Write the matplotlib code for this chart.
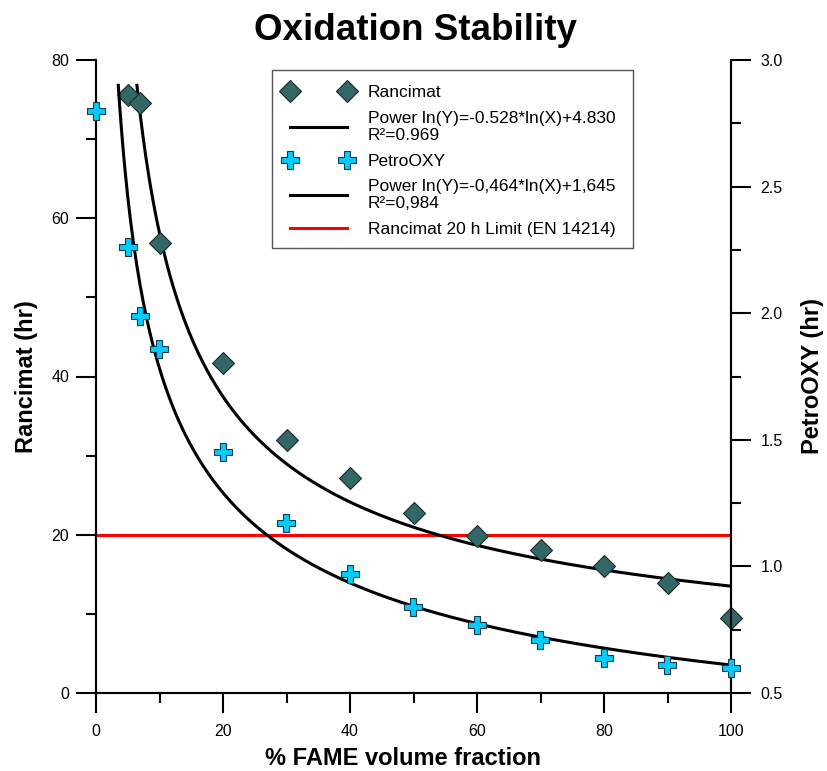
import numpy as np
import matplotlib.pyplot as plt
from matplotlib.lines import Line2D
from matplotlib.patches import Rectangle
from matplotlib.ticker import MultipleLocator

plt.rcParams['font.family'] = ['Liberation Sans', 'DejaVu Sans']

# % FAME volume fraction
fame = [0, 5, 7, 10, 20, 30, 40, 50, 60, 70, 80, 90, 100]

# Rancimat induction period (hr), left axis -- no value at 0 %
rancimat_x = [5, 7, 10, 20, 30, 40, 50, 60, 70, 80, 90, 100]
rancimat_y = [75.6, 74.6, 56.9, 41.7, 32.0, 27.2, 22.7, 19.8, 18.1, 16.05, 13.9, 9.5]

# PetroOXY (hr), right axis
petro_y = [2.80, 2.26, 1.99, 1.86, 1.45, 1.17, 0.97, 0.84, 0.77, 0.71, 0.64, 0.61, 0.60]

rancimat_limit = 20

legend_labels = [
    'Rancimat',
    'Power ln(Y)=-0.528*ln(X)+4.830\nR\u00b2=0.969',
    'PetroOXY',
    'Power ln(Y)=-0,464*ln(X)+1,645\nR\u00b2=0,984',
    'Rancimat 20 h Limit (EN 14214)',
]

DIAMOND_COL = '#336666'
CROSS_COL = '#00CCFF'
FIT_TOP = 0.96   # fit curves start where they reach this axes fraction
W, H = 827, 771


def power_fit(x, y):
    x = np.asarray(x, float)
    y = np.asarray(y, float)
    keep = x > 0
    m, c = np.polyfit(np.log(x[keep]), np.log(y[keep]), 1)
    return m, c


def fit_curve(m, c, ytop):
    x0 = np.exp((np.log(ytop) - c) / m)
    xs = np.linspace(x0, 100, 400)
    return xs, np.exp(c) * xs ** m


fig = plt.figure(figsize=(W / 100, H / 100), dpi=100)
ax = fig.add_axes([96 / W, 1 - 693 / H, 635 / W, 633 / H])
ax2 = ax.twinx()

ax.set_xlim(0, 100)
ax.set_ylim(0, 80)
ax2.set_ylim(0.5, 3.0)

# red limit line
ax.plot([0, 100], [rancimat_limit, rancimat_limit], color='#FF0000', lw=2.2, zorder=2)

# fit curves
m1, c1 = power_fit(rancimat_x, rancimat_y)
xs, ys = fit_curve(m1, c1, 0 + 80 * FIT_TOP)
ax.plot(xs, ys, color='black', lw=2.2, zorder=3)

m2, c2 = power_fit(fame, petro_y)
xs, ys = fit_curve(m2, c2, 0.5 + 2.5 * FIT_TOP)
ax2.plot(xs, ys, color='black', lw=2.2, zorder=3)

# markers
dia_kw = dict(ls='none', marker='D', ms=11.5, mfc=DIAMOND_COL, mec='#1a2a2a', mew=0.8)
crs_kw = dict(ls='none', marker='P', ms=13.5, mfc=CROSS_COL, mec='#1a3a4a', mew=0.8)
ax.plot(rancimat_x, rancimat_y, zorder=5, clip_on=False, **dia_kw)
ax2.plot(fame, petro_y, zorder=5, clip_on=False, **crs_kw)

# axes styling
for a in (ax, ax2):
    a.spines['top'].set_visible(False)
    for s in ('left', 'right', 'bottom'):
        a.spines[s].set_linewidth(1.5)
    a.set_facecolor('none')

ax.xaxis.set_major_locator(MultipleLocator(20))
ax.xaxis.set_minor_locator(MultipleLocator(10))
ax.yaxis.set_major_locator(MultipleLocator(20))
ax.yaxis.set_minor_locator(MultipleLocator(10))
ax2.yaxis.set_major_locator(MultipleLocator(0.5))
ax2.yaxis.set_minor_locator(MultipleLocator(0.25))
ax2.yaxis.set_major_formatter(plt.FormatStrFormatter('%.1f'))

ax.tick_params(axis='x', which='major', direction='out', length=14.4, width=1.5,
               labelsize=11.5, pad=8)
ax.tick_params(axis='x', which='minor', direction='out', length=7.2, width=1.5)
ax.tick_params(axis='y', which='major', direction='out', length=14.4, width=1.5,
               labelsize=11.5, pad=5, right=False)
ax.tick_params(axis='y', which='minor', direction='out', length=7.2, width=1.5, right=False)
ax2.tick_params(axis='y', which='major', direction='out', length=14.4, width=1.5,
                labelsize=11.5, pad=7)
ax2.tick_params(axis='y', which='minor', direction='out', length=7.2, width=1.5)

ax.set_xlabel('% FAME volume fraction', fontsize=17, fontweight='bold')
ax.xaxis.set_label_coords(0.484, -0.086)
ax.set_ylabel('Rancimat (hr)', fontsize=17, fontweight='bold')
ax.yaxis.set_label_coords(-0.092, 0.5)
ax2.set_ylabel('PetroOXY (hr)', fontsize=17, fontweight='bold')
ax2.yaxis.set_label_coords(1.111, 0.5)

fig.text(0.502, 1 - 31 / H, 'Oxidation Stability', fontsize=26.5, fontweight='bold',
         ha='center', va='center')

# legend: frame drawn separately, content placed inside it
fig.patches.append(Rectangle((272 / W, 1 - 248 / H), 361 / W, 178 / H,
                             transform=fig.transFigure, fill=True, fc='white',
                             ec='#555555', lw=1.0, zorder=4))
handles = [
    Line2D([], [], **dia_kw),
    Line2D([], [], color='black', lw=2.2),
    Line2D([], [], **crs_kw),
    Line2D([], [], color='black', lw=2.2),
    Line2D([], [], color='#FF0000', lw=2.2),
]
leg = fig.legend(handles, legend_labels, loc='upper left',
                 bbox_to_anchor=(285 / W, 1 - 85 / H), numpoints=2,
                 fontsize=12.5, frameon=False, handlelength=3.88, handletextpad=0.9,
                 borderpad=0, labelspacing=0.62, borderaxespad=0)
for t in leg.get_texts():
    t.set_linespacing(1.15)

fig.savefig('out.png', dpi=100)
